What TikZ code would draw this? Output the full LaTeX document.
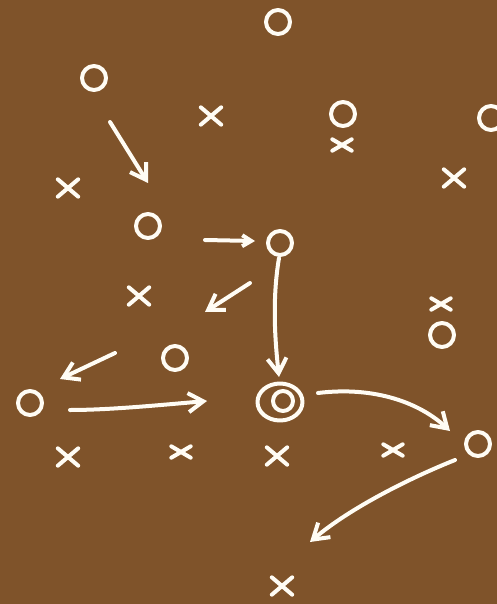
\documentclass[tikz,border=0pt]{standalone}
\usetikzlibrary{arrows.meta,shapes.geometric}
\definecolor{board}{RGB}{127,83,42}
\definecolor{chalk}{RGB}{255,252,244}
\begin{document}
\begin{tikzpicture}[x=1pt,y=-1pt,
  chalkline/.style={draw=chalk, line width=4pt, line cap=round, line join=round},
  omark/.style={circle, chalkline, minimum size=24pt, inner sep=0pt},
  xmark/.style={inner sep=0pt, minimum width=20pt, minimum height=17pt},
  xsmall/.style={inner sep=0pt, minimum width=19pt, minimum height=11pt},
  movearrow/.style={chalkline, -{Straight Barb[length=15pt,width=19pt]}},
  shortarrow/.style={chalkline, -{Straight Barb[length=9pt,width=11pt]}},
]
\fill[board] (0,0) rectangle (497,604);
\useasboundingbox (0,0) rectangle (497,604);

% circles (offense)
\node[omark] (o1) at (278,22) {};
\node[omark] (o2) at (94,78) {};
\node[omark] (o3) at (343,114) {};
\node[omark] (o4) at (491,118) {};
\node[omark] (o5) at (148,226) {};
\node[omark] (o6) at (280,243) {};
\node[omark] (o7) at (175,358) {};
\node[omark] (o8) at (30,403) {};
\node[omark] (o9) at (442,335) {};
\node[omark] (o11) at (478,444) {};
\node[ellipse, chalkline, minimum width=45pt, minimum height=37pt, inner sep=0pt] (o10) at (280,402) {};
\node[circle, chalkline, minimum size=20pt, inner sep=0pt] (o10in) at (283,401) {};

% crosses (defense)
\node[xmark] (x1) at (211,116) {};
\node[xmark] (x2) at (68,188) {};
\node[xsmall] (x3) at (342,145) {};
\node[xmark] (x4) at (454,178) {};
\node[xmark] (x5) at (139,296) {};
\node[xsmall] (x6) at (441,304) {};
\node[xmark] (x7) at (68,457) {};
\node[xsmall] (x8) at (181,452) {};
\node[xmark] (x9) at (277,456) {};
\node[xsmall] (x10) at (393,450) {};
\node[xmark] (x11) at (282,586) {};
\foreach \n in {x1,x2,x3,x4,x5,x6,x7,x8,x9,x10,x11}
  \draw[chalkline] (\n.north west) -- (\n.south east) (\n.north east) -- (\n.south west);

% arrow end points
\coordinate (a1s) at (110,122); \coordinate (a1e) at (148,183);
\coordinate (a2s) at (205,240); \coordinate (a2e) at (255,241);
\coordinate (a3s) at (250,283); \coordinate (a3e) at (205,312);
\coordinate (a4s) at (115,353); \coordinate (a4e) at (60,379);
\coordinate (a5s) at (70,410);  \coordinate (a5e) at (207,401);
\coordinate (a6s) at (279,258); \coordinate (a6e) at (279,377);
\coordinate (a7s) at (318,393); \coordinate (a7e) at (450,431);
\coordinate (a8s) at (455,460); \coordinate (a8e) at (310,542);

\draw[movearrow] (a1s) -- (a1e);
\draw[shortarrow] (a2s) -- (a2e);
\draw[movearrow] (a3s) -- (a3e);
\draw[movearrow] (a4s) -- (a4e);
\draw[movearrow] (a5s) .. controls (110,410) and (160,405) .. (a5e);
\draw[movearrow] (a6s) .. controls (272,300) and (275,340) .. (a6e);
\draw[movearrow] (a7s) .. controls (375,386) and (420,403) .. (a7e);
\draw[movearrow] (a8s) .. controls (410,478) and (350,508) .. (a8e);
\end{tikzpicture}
\end{document}
